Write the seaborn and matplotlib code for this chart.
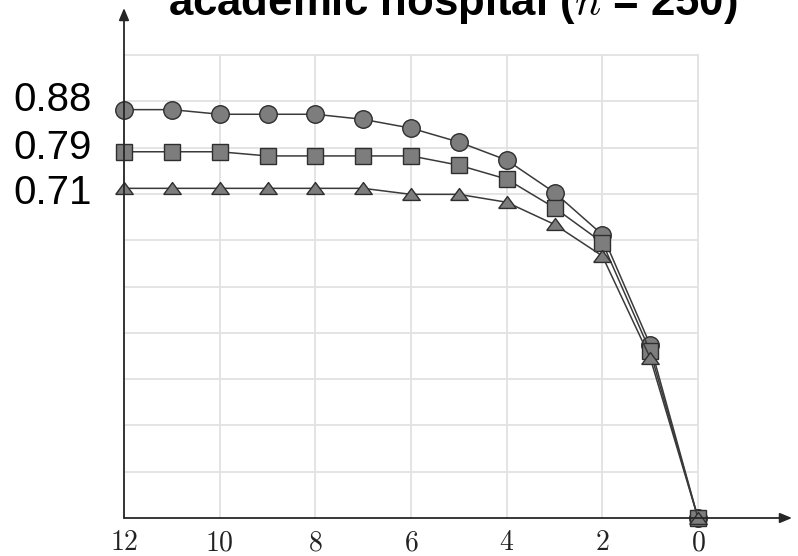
import numpy as np
import pandas as pd
import matplotlib
matplotlib.use("Agg")
import matplotlib.pyplot as plt
import seaborn as sns

# ---- data ----
x_vals = [12, 11, 10, 9, 8, 7, 6, 5, 4, 3, 2, 1, 0]
circle_vals = [0.882, 0.882, 0.872, 0.872, 0.872, 0.861, 0.842, 0.812, 0.773, 0.703, 0.612, 0.374, 0.0]
square_vals = [0.791, 0.791, 0.791, 0.782, 0.782, 0.782, 0.782, 0.762, 0.732, 0.670, 0.595, 0.360, 0.0]
triangle_vals = [0.712, 0.712, 0.712, 0.712, 0.712, 0.712, 0.699, 0.699, 0.682, 0.634, 0.566, 0.346, 0.0]
x_ticks = [12, 10, 8, 6, 4, 2, 0]
y_grid = [0.1, 0.2, 0.3, 0.4, 0.5, 0.6, 0.7, 0.8, 0.9, 1.0]
side_labels = ["0.88", "0.79", "0.71"]
side_label_values = [0.88, 0.79, 0.71]
title_text = "academic hospital ($n$ = 250)"

sns.set_theme(style="white")
plt.rcParams["mathtext.fontset"] = "cm"
plt.rcParams["font.family"] = ["Liberation Sans", "DejaVu Sans"]

fig = plt.figure(figsize=(7.98, 5.56), dpi=100)
ax = fig.add_axes([124 / 798, 1 - 518 / 556, 574 / 798, 463 / 556])

line_col = "#3a3a3a"
face_col = "#7d7d7d"
tri = [(-1, -0.68), (1, -0.68), (0, 0.68), (-1, -0.68)]

series = [
    (circle_vals, "o", 12.6),
    (square_vals, "s", 12.0),
    (triangle_vals, tri, 12.6),
]
for vals, mk, ms in series:
    df = pd.DataFrame({"x": x_vals, "y": vals})
    sns.lineplot(data=df, x="x", y="y", ax=ax, color=line_col, lw=1.1,
                 marker=mk, markersize=ms, markerfacecolor=face_col,
                 markeredgecolor="#2e2e2e", markeredgewidth=1.0, legend=False)

for ln in ax.lines:
    ln.set_clip_on(False)

ax.set_xlim(12, 0)
ax.set_ylim(0, 1)
ax.set_xticks(x_ticks)
ax.set_xticklabels([f"${v}$" for v in x_ticks])
ax.set_yticks(y_grid)
ax.set_yticklabels([])
ax.tick_params(axis="both", length=0)
ax.tick_params(axis="x", labelsize=20, pad=9, colors="#222222")
ax.grid(True, color="#e2e2e2", lw=1.3)
for gl in ax.get_xgridlines() + ax.get_ygridlines():
    gl.set_clip_on(False)
ax.set_axisbelow(True)
for sp in ax.spines.values():
    sp.set_visible(False)
ax.set_xlabel("")
ax.set_ylabel("")

arrow_kw = dict(arrowstyle="-|>,head_length=0.6,head_width=0.25", color="#262626",
                lw=1.3, shrinkA=0, shrinkB=0, mutation_scale=12)
ax.annotate("", xy=((792 - 124) / 574, 0), xytext=(0, 0), xycoords="axes fraction",
            arrowprops=arrow_kw, annotation_clip=False)
ax.annotate("", xy=(0, (518 - 8) / 463), xytext=(0, 0), xycoords="axes fraction",
            arrowprops=arrow_kw, annotation_clip=False)

offsets = [7.3, 2.9, -2.9]
for lab, v, dy in zip(side_labels, side_label_values, offsets):
    ax.annotate(lab, xy=(12, v), xycoords="data", xytext=(-23, dy),
                textcoords="offset points", ha="right", va="center",
                fontsize=29, color="black", annotation_clip=False)

fig.text(453 / 798, 1 - 15 / 556, title_text, ha="center", va="baseline",
         fontsize=31.5, fontweight="bold", color="black")

fig.savefig("out.png", dpi=100)
